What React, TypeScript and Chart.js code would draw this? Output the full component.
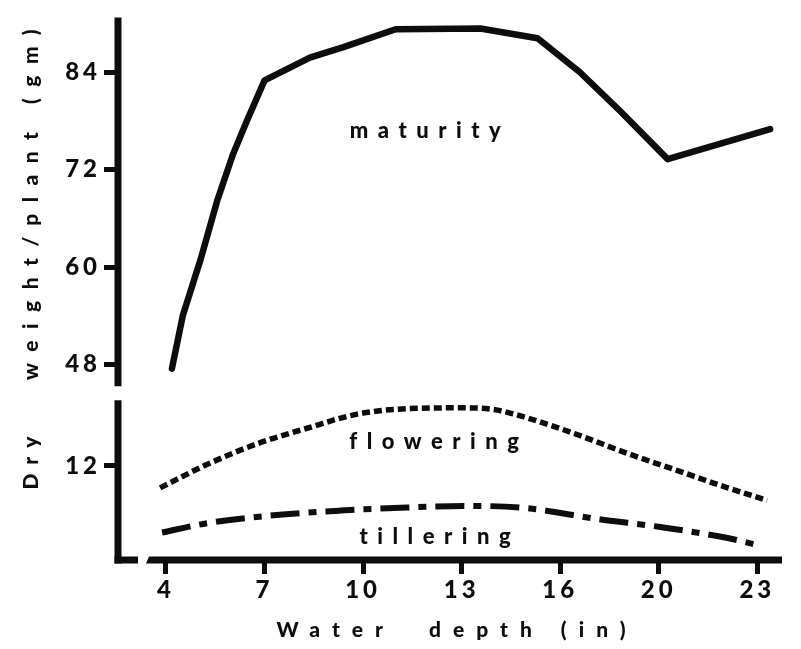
import React, { useEffect, useRef } from 'react';
import { Chart, registerables } from 'chart.js';

Chart.register(...registerables);

// Water depth (in) – the seven depths sit in evenly spaced slots 0..6 along the axis
const depthLabels = ['4', '7', '10', '13', '16', '20', '23'];

// Dry weight per plant at maturity (gm) – upper, broken part of the y axis
const maturitySlot = [0.06, 0.17, 0.35, 0.52, 0.68, 0.82, 1.0, 1.46, 1.8, 2.33, 3.19, 3.77, 4.2, 4.61, 5.09, 6.13];
const maturityWeight = [47.5, 54.0, 60.9, 68.2, 73.9, 78.0, 83.0, 85.8, 87.1, 89.3, 89.4, 88.2, 84.0, 79.2, 73.3, 77.0];

// Dry weight per plant at flowering (gm) – lower part of the y axis
const floweringSlot = [-0.06, 0.42, 0.92, 1.43, 1.94, 2.45, 2.99, 3.32, 3.67, 4.17, 4.68, 5.19, 5.7, 6.1];
const floweringWeight = [9.2, 12.2, 14.8, 16.8, 18.6, 19.3, 19.4, 19.2, 18.1, 16.0, 13.6, 11.4, 9.2, 7.6];

// Dry weight per plant at tillering (gm) – lower part of the y axis
const tilleringSlot = [-0.04, 0.42, 1.09, 1.77, 2.45, 3.06, 3.67, 4.34, 5.02, 5.7, 6.0];
const tilleringWeight = [3.5, 4.7, 5.7, 6.3, 6.7, 6.9, 6.6, 5.3, 4.2, 2.8, 1.9];

const upperTicks = [48, 60, 72, 84];
const lowerTicks = [12];

// Curve names, anchored in data units: [text, slot of centre, baseline value, axis]
const curveNames: [string, number, number, string][] = [
  ['maturity', 2.63, 75.9, 'yHigh'],
  ['flowering', 2.72, 14.1, 'yLow'],
  ['tillering', 2.73, 2.0, 'yLow'],
];

const FONT = 'Lato, "DejaVu Sans", sans-serif';
const WEIGHT = 900;
const INK = '#0d0d0d';

const toPoints = (xs: number[], ys: number[]) => xs.map((x, i) => ({ x, y: ys[i] }));

function spacedText(ctx: CanvasRenderingContext2D, text: string, x: number, y: number, size: number, spacing: number, align: CanvasTextAlign) {
  ctx.save();
  ctx.font = `${WEIGHT} ${size}px ${FONT}`;
  (ctx as any).letterSpacing = `${spacing}px`;
  ctx.fillStyle = INK;
  ctx.textBaseline = 'alphabetic';
  // trailing spacing is added after the last glyph; compensate for centred/right text
  let dx = 0;
  if (align === 'center') dx = spacing / 2;
  if (align === 'right') dx = spacing;
  ctx.textAlign = align;
  ctx.fillText(text, x + dx, y);
  ctx.restore();
}

const framePlugin = {
  id: 'frame',
  beforeDraw(chart: any) {
    (chart.ctx as any).letterSpacing = '4px';
  },
  afterDraw(chart: any) {
    const { ctx, chartArea, scales } = chart;
    const yHigh = scales.yHigh;
    const yLow = scales.yLow;
    const left = chartArea.left;
    const bottom = chartArea.bottom;
    ctx.save();
    ctx.strokeStyle = INK;
    ctx.lineWidth = 7;
    ctx.lineCap = 'butt';
    // broken y axis
    ctx.beginPath();
    ctx.moveTo(left, chartArea.top);
    ctx.lineTo(left, yHigh.bottom - 6);
    ctx.moveTo(left, yLow.top + 8);
    ctx.lineTo(left, bottom + 3.5);
    ctx.stroke();
    // x axis with a short break next to the corner
    ctx.beginPath();
    ctx.moveTo(left - 3.5, bottom);
    ctx.lineTo(left + 20, bottom);
    ctx.stroke();
    ctx.beginPath();
    ctx.moveTo(left + 28, bottom + 3.5);
    ctx.lineTo(left + 31, bottom - 3.5);
    ctx.lineTo(chartArea.right + 2, bottom - 3.5);
    ctx.lineTo(chartArea.right + 2, bottom + 3.5);
    ctx.closePath();
    ctx.fillStyle = INK;
    ctx.fill();
    ctx.restore();

    // curve names
    for (const [text, slot, value, axis] of curveNames) {
      spacedText(ctx, text, scales.x.getPixelForValue(slot), scales[axis].getPixelForValue(value), 22, 9.5, 'center');
    }

    // axis titles
    spacedText(ctx, 'Water  depth (in)', (chartArea.left + chartArea.right) / 2 + 2, 637, 21, 12, 'center');
    ctx.save();
    ctx.translate(38, 0);
    ctx.rotate(-Math.PI / 2);
    spacedText(ctx, 'Dry', -463, 0, 21, 9, 'center');
    spacedText(ctx, 'weight/plant (gm)', -380, 0, 21, 11.5, 'left');
    ctx.restore();
  },
};

const tickFont = { family: FONT, size: 24, weight: WEIGHT as any };

export default function App() {
  const ref = useRef<HTMLCanvasElement>(null);

  useEffect(() => {
    if (!ref.current) return;
    const chart = new Chart(ref.current, {
      type: 'line',
      data: {
        datasets: [
          {
            label: 'maturity',
            data: toPoints(maturitySlot, maturityWeight),
            yAxisID: 'yHigh',
            borderColor: INK,
            borderWidth: 6.5,
            tension: 0,
            pointRadius: 0,
            borderJoinStyle: 'round',
            borderCapStyle: 'round',
          },
          {
            label: 'flowering',
            data: toPoints(floweringSlot, floweringWeight),
            yAxisID: 'yLow',
            borderColor: INK,
            borderWidth: 5.5,
            borderDash: [8, 4],
            cubicInterpolationMode: 'monotone',
            pointRadius: 0,
          },
          {
            label: 'tillering',
            data: toPoints(tilleringSlot, tilleringWeight),
            yAxisID: 'yLow',
            borderColor: INK,
            borderWidth: 6,
            borderDash: [29, 9, 8, 9],
            cubicInterpolationMode: 'monotone',
            pointRadius: 0,
          },
        ],
      },
      options: {
        animation: false,
        responsive: false,
        devicePixelRatio: 1,
        layout: { padding: { top: 12, right: 21, left: 0, bottom: 0 } },
        plugins: { legend: { display: false }, tooltip: { enabled: false } },
        scales: {
          x: {
            type: 'linear',
            position: 'bottom',
            min: -0.487,
            max: 6.23,
            afterBuildTicks: (s: any) => {
              s.ticks = depthLabels.map((_, i) => ({ value: i }));
            },
            afterFit: (s: any) => {
              s.height = 89;
            },
            grid: { drawOnChartArea: false, tickLength: 14, tickWidth: 5, color: INK },
            border: { display: false },
            ticks: {
              font: tickFont,
              color: INK,
              padding: 2,
              maxRotation: 0,
              autoSkip: false,
              callback: (v: any) => depthLabels[Math.round(Number(v))] ?? '',
            },
          },
          yLow: {
            type: 'linear',
            position: 'left',
            stack: 'weight',
            stackWeight: 169.5,
            min: 0,
            max: 21.4,
            afterBuildTicks: (s: any) => {
              s.ticks = lowerTicks.map((v) => ({ value: v }));
            },
            afterFit: (s: any) => {
              s.width = 118;
            },
            grid: { drawOnChartArea: false, tickLength: 14, tickWidth: 5, color: INK },
            border: { display: false },
            ticks: { font: tickFont, color: INK, padding: 3 },
          },
          yHigh: {
            type: 'linear',
            position: 'left',
            stack: 'weight',
            stackWeight: 378.5,
            min: 44.6,
            max: 90.76,
            afterBuildTicks: (s: any) => {
              s.ticks = upperTicks.map((v) => ({ value: v }));
            },
            afterFit: (s: any) => {
              s.width = 118;
            },
            grid: { drawOnChartArea: false, tickLength: 14, tickWidth: 5, color: INK },
            border: { display: false },
            ticks: { font: tickFont, color: INK, padding: 3 },
          },
        },
      },
      plugins: [framePlugin],
    });
    return () => chart.destroy();
  }, []);

  return (
    <div style={{ position: 'fixed', left: 0, top: 0, width: 801, height: 649, background: '#fff' }}>
      <canvas ref={ref} width={801} height={649} style={{ display: 'block', width: 801, height: 649 }} />
    </div>
  );
}
